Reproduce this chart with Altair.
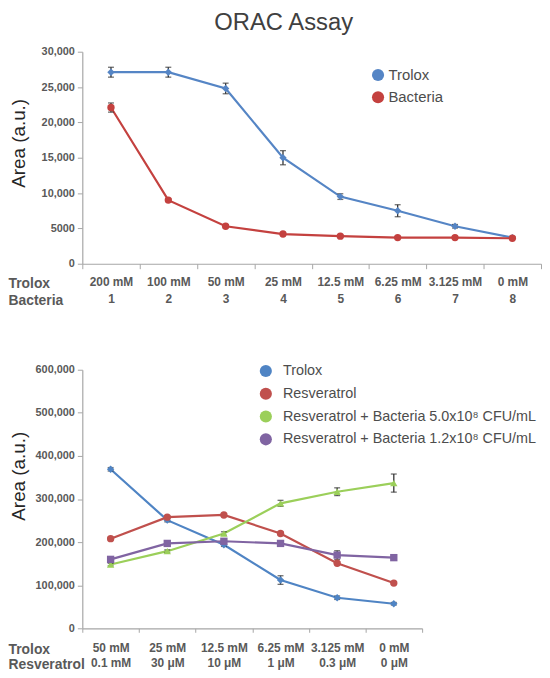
import altair as alt
import pandas as pd

FONT = "Liberation Sans"
AXIS_C = "#a6a6a6"
LABEL_C = "#595959"

# ---------------- Top panel data ----------------
top_trolox_conc = ["200 mM", "100 mM", "50 mM", "25 mM", "12.5 mM", "6.25 mM", "3.125 mM", "0 mM"]
top_bacteria_idx = ["1", "2", "3", "4", "5", "6", "7", "8"]
top_series = ["Trolox", "Bacteria"]
top_trolox_vals = [27100, 27100, 24800, 15000, 9500, 7500, 5300, 3700]
top_trolox_err = [700, 700, 750, 1000, 400, 850, 250, 150]
top_bacteria_vals = [22100, 9000, 5300, 4200, 3900, 3700, 3700, 3600]
top_bacteria_err = [650, 200, 200, 150, 150, 100, 100, 150]
top_y_ticks = [0, 5000, 10000, 15000, 20000, 25000, 30000]
top_colors = ["#5585c5", "#c4413f"]
top_shapes = ["diamond", "circle"]

# ---------------- Bottom panel data ----------------
bot_trolox_conc = ["50 mM", "25 mM", "12.5 mM", "6.25 mM", "3.125 mM", "0 mM"]
bot_resv_conc = ["0.1 mM", "30 μM", "10 μM", "1 μM", "0.3 μM", "0 μM"]
bot_series = [
    "Trolox",
    "Resveratrol",
    "Resveratrol + Bacteria 5.0x10⁸ CFU/mL",
    "Resveratrol + Bacteria 1.2x10⁸ CFU/mL",
]
bot_trolox_vals = [369000, 251000, 194000, 112000, 71000, 57000]
bot_trolox_err = [4000, 4000, 4000, 10000, 4000, 3000]
bot_resv_vals = [208000, 258000, 263000, 220000, 151000, 105000]
bot_resv_err = [3000, 3000, 3000, 3000, 3000, 3000]
bot_rb5_vals = [148000, 179000, 220000, 290000, 317000, 337000]
bot_rb5_err = [3000, 3000, 4000, 7000, 9000, 21000]
bot_rb12_vals = [160000, 197000, 202000, 197000, 170000, 164000]
bot_rb12_err = [3000, 3000, 3000, 3000, 10000, 3000]
bot_y_ticks = [0, 100000, 200000, 300000, 400000, 500000, 600000]
bot_colors = ["#4f84c4", "#c0504d", "#9bcf5a", "#8064a2"]
bot_shapes = ["diamond", "circle", "triangle-up", "square"]


def build_df(cats, series, values, errs):
    rows = []
    for i, (s, vals, es) in enumerate(zip(series, values, errs)):
        for c, v, e in zip(cats, vals, es):
            rows.append({"cat": c, "series": s, "marker": f"m{i}", "value": v,
                         "lo": v - e, "hi": v + e})
    return pd.DataFrame(rows)


def panel(df, cats, series, colors, shapes, w, h, ymax, yticks, ylabel_expr,
          row_titles, label_pad, line_h, xtitle_x, xtitle_y, tick_size,
          ytitle_x, ytitle_y, leg_x, leg_y, leg_font, leg_row_pad, leg_off):
    x_axis = alt.Axis(
        labelExpr="split(datum.label, '|')", labelAngle=0, labelFont=FONT,
        labelFontSize=12, labelFontWeight="bold", labelColor=LABEL_C,
        labelLineHeight=line_h, labelPadding=label_pad, labelBaseline="top",
        labelOverlap=False, labelFlush=False,
        tickBand="extent", tickSize=tick_size, tickColor=AXIS_C,
        domainColor=AXIS_C, domainWidth=1.2, grid=False,
        title=row_titles, titleFont=FONT, titleFontSize=14,
        titleFontWeight="bold", titleColor=LABEL_C, titleAlign="left",
        titleX=xtitle_x, titleY=xtitle_y, titleBaseline="top",
        titleLineHeight=line_h,
    )
    x = alt.X("cat:N", sort=cats,
              scale=alt.Scale(type="band", paddingInner=0, paddingOuter=0),
              axis=x_axis)

    def y(field):
        return alt.Y(
            field, type="quantitative",
            scale=alt.Scale(domain=[0, ymax], nice=False, zero=True),
            axis=alt.Axis(
                values=yticks, labelExpr=ylabel_expr, labelFont=FONT,
                labelFontSize=11, labelFontWeight="bold", labelColor=LABEL_C,
                tickSize=5, tickColor=AXIS_C, domainColor=AXIS_C,
                domainWidth=1.2, grid=False, labelPadding=3,
                title="Area (a.u.)", titleFont=FONT, titleFontSize=19,
                titleFontWeight="normal", titleColor="#262626",
                titleAngle=270, titleX=ytitle_x, titleY=ytitle_y,
                titleBaseline="middle", titleAlign="center",
            ),
        )

    color_scale = alt.Scale(domain=series, range=colors)
    legend = alt.Legend(
        title=None, orient="none", legendX=leg_x, legendY=leg_y,
        symbolType="circle", symbolSize=150, symbolStrokeWidth=0,
        symbolOpacity=1, labelFont=FONT, labelFontSize=leg_font,
        labelColor="#4d4d4d", rowPadding=leg_row_pad, labelOffset=leg_off,
        padding=0, labelLimit=400,
    )
    color = alt.Color("series:N", scale=color_scale, legend=legend)
    markers = [f"m{i}" for i in range(len(series))]
    base = alt.Chart(df)
    # zero-size circles: only carry the circular legend symbols
    key = base.mark_circle(size=0, opacity=1).encode(
        x=x, y=y("value"), color=color)
    line = base.mark_line(strokeWidth=2.2).encode(
        x=x, y=y("value"), color=color)
    err = base.mark_rule(color="#333333", strokeWidth=1.3).encode(
        x=x, y=y("lo"), y2="hi:Q")
    cap_lo = base.mark_tick(color="#333333", size=6, thickness=1.3,
                            orient="horizontal").encode(x=x, y=y("lo"))
    cap_hi = base.mark_tick(color="#333333", size=6, thickness=1.3,
                            orient="horizontal").encode(x=x, y=y("hi"))
    pts = base.mark_point(filled=True, size=55, opacity=1).encode(
        x=x, y=y("value"), color=color,
        shape=alt.Shape("marker:N", scale=alt.Scale(domain=markers, range=shapes),
                        legend=None),
    )
    return alt.layer(key, line, err, cap_lo, cap_hi, pts).properties(width=w, height=h)


top_cats = [f"{a}|{b}" for a, b in zip(top_trolox_conc, top_bacteria_idx)]
top_df = build_df(top_cats, top_series,
                  [top_trolox_vals, top_bacteria_vals],
                  [top_trolox_err, top_bacteria_err])

bot_cats = [f"{a}|{b}" for a, b in zip(bot_trolox_conc, bot_resv_conc)]
bot_df = build_df(bot_cats, bot_series,
                  [bot_trolox_vals, bot_resv_vals, bot_rb5_vals, bot_rb12_vals],
                  [bot_trolox_err, bot_resv_err, bot_rb5_err, bot_rb12_err])

top = panel(
    top_df, top_cats, top_series, top_colors, top_shapes,
    w=463, h=214, ymax=30000, yticks=top_y_ticks,
    ylabel_expr="datum.value >= 10000 ? format(datum.value, ',') : format(datum.value, 'd')",
    row_titles=["Trolox", "Bacteria"], label_pad=8, line_h=16.7,
    xtitle_x=-75, xtitle_y=13, tick_size=5,
    ytitle_x=-64, ytitle_y=92,
    leg_x=291, leg_y=16, leg_font=15, leg_row_pad=6.5, leg_off=3,
)

bottom = panel(
    bot_df, bot_cats, bot_series, bot_colors, bot_shapes,
    w=343, h=261, ymax=600000, yticks=bot_y_ticks,
    ylabel_expr="format(datum.value, ',')",
    row_titles=["Trolox", "Resveratrol"], label_pad=10, line_h=15.7,
    xtitle_x=-75, xtitle_y=14, tick_size=4,
    ytitle_x=-64, ytitle_y=107,
    leg_x=178, leg_y=-6, leg_font=14.5, leg_row_pad=8, leg_off=10,
)

chart = alt.vconcat(top, bottom, spacing=57).resolve_scale(
    color="independent", shape="independent", x="independent", y="independent"
).resolve_legend(color="independent", shape="independent").properties(
    title=alt.TitleParams(
        "ORAC Assay", font=FONT, fontSize=24, fontWeight="normal",
        color="#404040", anchor="middle", offset=11, dx=9,
    )
).configure(
    padding={"left": 0, "top": 0, "right": 0, "bottom": 0},
    background="white",
).configure_view(stroke=None)

chart.save("out.html", embed_options={"renderer": "svg", "actions": False})
